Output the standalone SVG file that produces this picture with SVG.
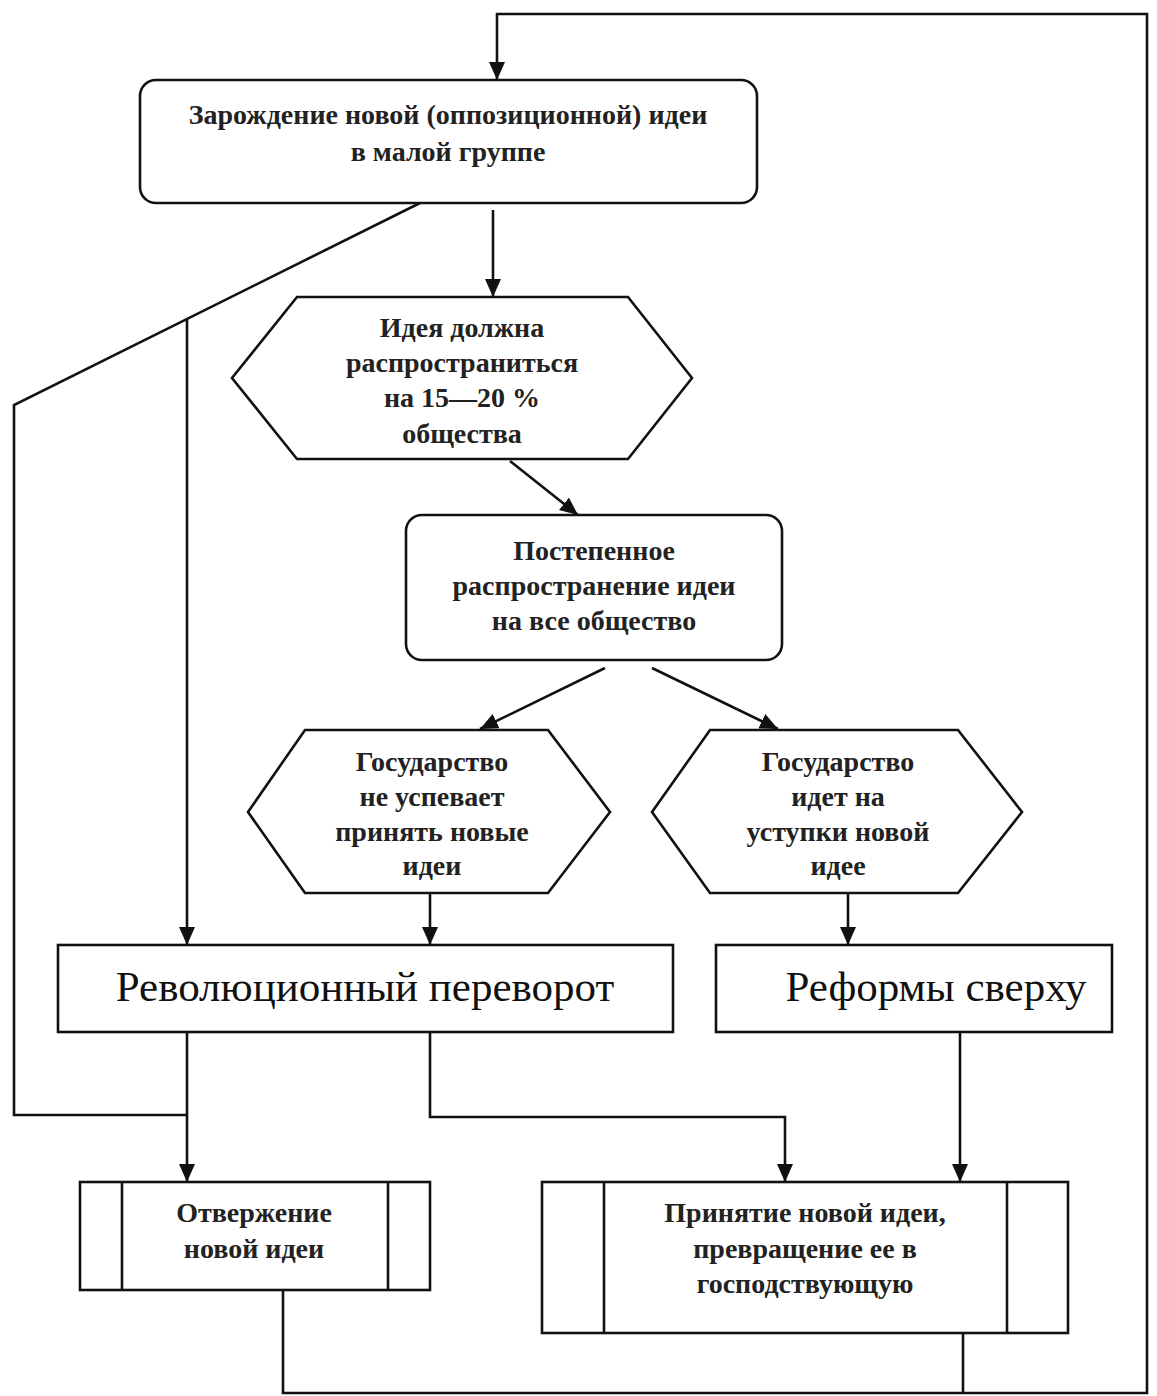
<svg xmlns="http://www.w3.org/2000/svg" width="1157" height="1396" viewBox="0 0 1157 1396">
<defs>
<marker id="ah" markerUnits="userSpaceOnUse" markerWidth="18" markerHeight="16" refX="18" refY="8" orient="auto">
<path d="M0,0 L18,8 L0,16 z" fill="#111"/>
</marker>
<style>
.shape{fill:#fff;stroke:#111;stroke-width:2.6}
.line{fill:none;stroke:#111;stroke-width:2.6}
.arr{fill:none;stroke:#111;stroke-width:2.6;marker-end:url(#ah)}
.t{font-family:"Liberation Serif","Times New Roman",serif;font-size:28px;font-weight:bold;fill:#222;text-anchor:middle}
.big{font-family:"Liberation Serif","Times New Roman",serif;font-size:43px;fill:#111;text-anchor:middle}
</style>
</defs>
<rect width="1157" height="1396" fill="#fff"/>
<g id="connectors">
<path class="arr" d="M283,1290 V1393 H1147 V14 H497 V80"/>
<path class="line" d="M963,1333 V1393"/>
<path class="arr" d="M493,210 V297"/>
<path class="line" d="M420,203 L14,405 V1115 H187"/>
<path class="arr" d="M187,319 V945"/>
<path class="arr" d="M510,461 L578,515"/>
<path class="arr" d="M605,668 L480,729"/>
<path class="arr" d="M652,668 L778,729"/>
<path class="arr" d="M430,893 V945"/>
<path class="arr" d="M848,893 V945"/>
<path class="arr" d="M187,1032 V1182"/>
<path class="arr" d="M430,1032 V1117 H785 V1182"/>
<path class="arr" d="M960,1032 V1182"/>
</g>
<g id="n1">
<rect class="shape" x="140" y="80" width="617" height="123" rx="16"/>
<text class="t" x="448" y="124">Зарождение новой (оппозиционной) идеи</text>
<text class="t" x="448" y="161">в малой группе</text>
</g>
<g id="n2">
<polygon class="shape" points="297,297 628,297 692,378 628,459 297,459 232,378"/>
<text class="t" x="462" y="337">Идея должна</text>
<text class="t" x="462" y="372">распространиться</text>
<text class="t" x="462" y="407">на 15—20 %</text>
<text class="t" x="462" y="443">общества</text>
</g>
<g id="n3">
<rect class="shape" x="406" y="515" width="376" height="145" rx="16"/>
<text class="t" x="594" y="560">Постепенное</text>
<text class="t" x="594" y="595">распространение идеи</text>
<text class="t" x="594" y="630">на все общество</text>
</g>
<g id="n4">
<polygon class="shape" points="305,730 548,730 610,812 548,893 305,893 248,812"/>
<text class="t" x="432" y="771">Государство</text>
<text class="t" x="432" y="806">не успевает</text>
<text class="t" x="432" y="841">принять новые</text>
<text class="t" x="432" y="875">идеи</text>
</g>
<g id="n5">
<polygon class="shape" points="710,730 958,730 1022,812 958,893 710,893 652,812"/>
<text class="t" x="838" y="771">Государство</text>
<text class="t" x="838" y="806">идет на</text>
<text class="t" x="838" y="841">уступки новой</text>
<text class="t" x="838" y="875">идее</text>
</g>
<g id="n6">
<rect class="shape" x="58" y="945" width="615" height="87"/>
<text class="big" x="365" y="1001">Революционный переворот</text>
</g>
<g id="n7">
<rect class="shape" x="716" y="945" width="396" height="87"/>
<text class="big" x="936" y="1001">Реформы сверху</text>
</g>
<g id="n8">
<rect class="shape" x="80" y="1182" width="350" height="108"/>
<path class="line" d="M122,1182 V1290 M388,1182 V1290"/>
<text class="t" x="254" y="1222">Отвержение</text>
<text class="t" x="254" y="1258">новой идеи</text>
</g>
<g id="n9">
<rect class="shape" x="542" y="1182" width="526" height="151"/>
<path class="line" d="M604,1182 V1333 M1007,1182 V1333"/>
<text class="t" x="805" y="1222">Принятие новой идеи,</text>
<text class="t" x="805" y="1258">превращение ее в</text>
<text class="t" x="805" y="1293">господствующую</text>
</g>
</svg>
